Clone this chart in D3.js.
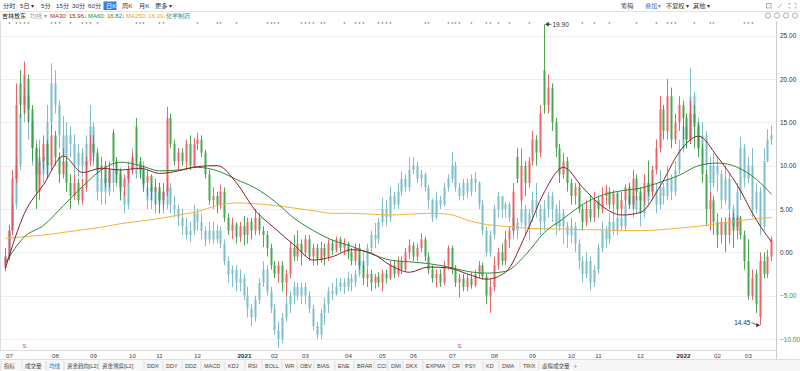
<!DOCTYPE html>
<html>
<head>
<meta charset="utf-8">
<script src="https://cdn.jsdelivr.net/npm/d3@7/dist/d3.min.js"></script>
<style>
  body { margin: 0; background: #fff; }
  svg { display: block; font-family: "Liberation Sans", "Noto Sans CJK SC", sans-serif; }
</style>
</head>
<body>
<svg id="chart" width="800" height="371"></svg>
<script>
// 吉林敖东 (red/green) vs 化学制药 overlay (teal), % scale, ~2 sessions per candle
const stockOpen = [-1.8,-0.5,2.5,8.5,19.5,17,20,16.5,12,7, 10.5,12.5,10,13.5,11,9,10.5,8,6.5,8,
  6,7.5,10.5,12.5,11.5,9.5,10,8,13.8,10.5, 9,7.5,8.5,9.5,14.5,10.5,9.5,8,8.8,7,
  7.5,6,7,15.5,12.5,10.5,11.5,10.5,12.5,10, 12.5,13,11.5,9,6,6.5,5.5,7,4,2.5,
  3.2,1.8,3,2,3.5,2.5,4,2.5,2,0.5, -1.5,-2.5,-1.5,-3.5,-2.5,0.5,-0.5,1,0,1.5,
  -0.5,0.5,-0.8,0.5,-0.5,1,0.2,1.5,0.5,1, 0,-1,0.5,-1.5,-3,-2.5,-3.5,-2.8,-3.5,-2.5,
  -3,-1.5,-2.5,-1,-2,0,0.8,-0.5,0.5,1.5, -0.5,-2,-3,-2.5,-3.5,-1.5,0.5,-2,-3.5,-3,
  -4,-3,-3.8,-2.5,-1.5,-2.8,-5,-4,-1.5,0, -1,1.5,2.5,11,6,10,8,10.5,13,11.5,
  21,17,19,15,12,9,10.5,8,6.5,7.5, 5,3.5,5,4,6,5,6.5,7,5.5,6.8,
  5,6,7.5,5.5,8.5,7,6,8,7,9.5, 12,16.5,14,18,13,15,17,15.5,13,16,
  14.5,12,9,5,6,3.5,2,3.5,2,4, 2.5,4,2,-1,-5,-2.5,-7.5,-1,-2.5,-0.5];
const stockClose = [-0.5,2.5,8.5,17,17,20.5,16.5,12,7,10.5, 12.5,10,13.5,11,9,10.5,8,6.5,8,6,
  7.5,10.5,12.5,11.5,9.5,10,8,9.5,10.5,9, 7.5,8.5,9.5,11,10.5,9.5,8,8.8,7,7.5,
  6,7,15.5,12.5,10.5,11.5,10.5,12.5,10,12.5, 13,11.5,9,6,6.5,5.5,7,4,2.5,3.2,
  1.8,3,2,3.5,2.5,4,2.5,2,0.5,-1.5, -2.5,-1.5,-3.5,-2.5,0.5,-0.5,1,0,1.5,-0.5,
  0.5,-0.8,0.5,-0.5,1,0.2,1.5,0.5,1,0, -1,0.5,-1.5,-3,-2.5,-3.5,-2.8,-3.5,-2.5,-3,
  -1.5,-2.5,-1,-2,0,0.8,-0.5,0.5,1.5,-0.5, -2,-3,-2.5,-3.5,-1.5,0.5,-2,-3.5,-3,-4,
  -3,-3.8,-2.5,-1.5,-2.8,-5,-4,-1.5,0,-1, 1.5,2.5,7,8.5,10,8,10.5,13,11.5,16,
  17,19,15,12,9,10.5,8,6.5,7.5,5, 3.5,5,4,6,5,6.5,7,5.5,6.8,5,
  6,7.5,5.5,8.5,7,6,8,7,9.5,12, 16.5,14,18,13,15,17,15.5,13,16,14.5,
  12,9,5,6,3.5,2,3.5,2,4,2.5, 4,2,-1,-5,-3,-6,-1,-2.5,-0.5,1.5];
const stockHigh = [0.5,3.2,9.5,19.5,21,22,20.5,17,12.5,12, 13.5,13,14.8,14,11.5,12,11,9,9,8.5,
  8.5,11,13.5,13.5,12,11,10.5,10.5,14.2,11, 9.5,9,10,11.5,15.5,11,10,9.5,9,8.5,
  8,8,16.8,16,13,12,12,13,13.5,13.2, 13.8,13.5,11.8,9.5,7.5,7,7.8,7.5,4.5,4,
  3.5,3.5,4.2,4,4,5,4.5,3,2.5,1, -1,-1,-1,-2,1.2,2,2.5,1.5,2,2,
  1,1,1.2,1,1.5,1.5,1.8,1.8,1.6,1.2, 0.5,1,1,-1,-2,-2,-2.5,-2.3,-2,-2,
  -1,-1,-0.5,-0.5,0.5,1.5,1.2,1,2.2,1.8, 0,-1.5,-2,-2,-1,0.8,0.8,-1.5,-2.5,-2.5,
  -2.5,-2.3,-2,-1,-1.2,-2.5,-3,-0.5,0.5,1, 2.5,3,8,12,12,10.5,11,14,13.5,17,
  26.3,20.5,19.5,15.5,12.5,11.5,11,8.5,8,8, 5.5,6,6.5,7,6.5,7.5,7.8,7.5,7.2,7,
  7,7.8,8,9.5,9,7.5,9,10.6,10,13, 18,17,20,19,16,18,17.5,16,17.5,17,
  15,12.5,9.5,7,6.5,4.5,4,4,4.5,4.5, 4.3,4.2,2.5,1.5,-2,-2,0,0,0.3,1.8];
const stockLow = [-2.2,-0.8,2,8,15.5,16,15,10.5,5,6, 9.5,8.5,9.5,10,8,8.5,7,5,6,5.5,
  5.5,7,10,10.5,9,8.5,7.5,7.5,10,8, 6,6.5,8,9,10,8.5,7,6.5,6,5.5,
  4.5,5,6.5,12,10,9.5,10,9.5,9.5,9.8, 11.8,11,8.5,5.5,5,4.5,5,3.5,2,1.5,
  1,1.2,0.8,1,1.5,2,2,0.6,-0.5,-2, -3,-3.5,-4.5,-5,-3,-1,-1,-1.5,-0.5,-1,
  -1.5,-1.5,-1.2,-1.5,-1,-0.3,0,0,-0.3,-0.8, -1.5,-1.5,-2,-3.8,-4,-4.5,-4.2,-4,-4.5,-3.6,
  -3.2,-3,-2.8,-2.5,-2.2,-0.8,-1,-1,0,-1, -2.5,-3.5,-4,-4,-3.8,-2,-2.5,-4,-5.2,-4.5,
  -4.5,-4.2,-4,-3,-3.2,-6,-7,-4.5,-2,-1.5, -1.5,0.5,2,8,5.5,6.5,7.5,10,10,11,
  16,16,14,11,8,8.5,7,5.5,5.5,4.5, 2.5,3,3.5,3.5,4,4.5,5.5,5,5,4.5,
  4.3,5.5,5,5,6,4.5,5.5,6.5,6.5,9, 11.5,13,13,12,12.5,14,13,12,12.5,12,
  11,8,3,2.5,2,0.5,1,0,1,0.5, 1.5,1.5,-2,-5.5,-5.5,-7,-8.4,-3,-3,-1];

const indOpen = [-1.5,-0.5,2.5,5.5,10,16,18,15,12,9, 11,9,15,19.5,17,13.5,11,13.5,12.5,10,
  11.5,10,12.5,14.5,11,7,8.5,7,9.5,8, 9.5,7,5.5,9.5,10.5,9,10,7.5,6,7.5,
  5.5,7,5.5,7.5,5.5,5,4,3,2,2.5, 4.5,3.5,2.5,1.5,2.5,1.5,2.5,1,-1,-2.5,
  -2,-3.5,-3,-5,-6.5,-7.5,-5.5,-3.5,-2,-4.5, -6.5,-9,-10,-7.5,-6,-5,-4,-5,-4,-5,
  -6.5,-8.5,-9.5,-7,-6,-4.5,-4.8,-4,-3.5,-4, -3,-3.5,-2.5,-1,-1.5,0.5,2,1.5,3.5,5,
  4,6.5,5.5,7,8.5,7.5,9.5,10,8.5,9, 7.5,6,4,6,5.5,7.5,8.5,10,7.5,6.5,
  8,7,8.5,8,5.5,2.5,0,2,5,6.5, 5,5.5,4,2.5,3.5,5,3,4.5,6,5,
  3.5,5,6.5,5,3,4.5,3,2,3,1, -1,-2.5,-1,-3.5,-2,0.5,2.5,1.5,3.5,2.5,
  4,3,5.5,6.5,5,6.5,4.5,6,8,7, 5.5,7.5,6.5,8.5,7,9.5,12,14.5,13,18,
  15,12,13.5,10,8,10,9,6,8.5,5, 3,7,12,8.5,10,5,7,3,10.5,13];
const indClose = [-0.5,2.5,5.5,10,16,18,15,12,9,11, 9,15,19.5,17,13.5,11,13.5,12.5,10,11.5,
  10,12.5,14.5,11,7,8.5,7,9.5,8,9.5, 7,5.5,9.5,10.5,9,10,7.5,6,7.5,5.5,
  7,5.5,7.5,5.5,5,4,3,2,2.5,4.5, 3.5,2.5,1.5,2.5,1.5,2.5,1,-1,-2.5,-2,
  -3.5,-3,-5,-6.5,-7.5,-5.5,-3.5,-2,-4.5,-6.5, -9,-10,-7.5,-6,-5,-4,-5,-4,-5,-6.5,
  -8.5,-9.5,-7,-6,-4.5,-4.8,-4,-3.5,-4,-3, -3.5,-2.5,-1,-1.5,0.5,2,1.5,3.5,5,4,
  6.5,5.5,7,8.5,7.5,9.5,10,8.5,9,7.5, 6,4,6,5.5,7.5,8.5,10,7.5,6.5,8,
  7,8.5,8,5.5,2.5,0,2,5,6.5,5, 5.5,4,2.5,3.5,5,3,4.5,6,5,3.5,
  5,6.5,5,3,4.5,3,2,3,1,-1, -2.5,-1,-3.5,-2,0.5,2.5,1.5,3.5,2.5,4,
  3,5.5,6.5,5,6.5,4.5,6,8,7,5.5, 7.5,6.5,8.5,7,9.5,12,14.5,13,18,15,
  12,13.5,10,8,10,9,6,8.5,5,3, 7,12,8.5,10,5,7,3,10.5,13,13.5];
const indHigh = [0,3,6.5,11,18,19,18.5,15.5,13,13, 12,17,21.8,21,17.5,15.7,15,14.5,13.6,12.5,
  12,13.5,17,15,11.5,10,9.5,10,10.5,10.5, 9.8,7.5,10.5,12,11.5,11,10.5,8,8,8,
  8,8,8.5,8,6.5,5.5,5,4,3.5,5.5, 5,4.5,3,3.5,3.5,3.2,3,1.5,-0.5,-1.5,
  -1.5,-2,-2.5,-4,-6,-5,-3,-1,-1.5,-4, -6,-8,-7,-5,-4.5,-3.4,-3.5,-3.5,-3.5,-4.5,
  -6,-8,-6.5,-5.2,-4,-3.5,-3,-3,-3,-2.3, -2.5,-2,-0.5,0,1,2.5,3.4,4,6.3,6,
  7.6,7,8,9.3,9,11,11,10.5,9.5,9.2, 7.8,6.2,7,6.5,8,9,11.6,10.5,8,8.5,
  8.5,9,9.3,8.2,6,3,2.5,5.5,7,6.5, 5.8,5.8,4.5,4,6,5.5,5,7,8,5.5,
  6,7,7,5.5,6,5,3.5,4,3.5,1.5, -0.5,0,-0.5,-1.5,1,3.5,3,4.5,5,5,
  4.5,6,8,7,7.5,7,7,9,9,8, 9.5,8,10,9,10.5,13,16,16,21.3,18.5,
  15.5,15,14,11,11.5,11,9.5,10,9,5.5, 8,13.3,12.5,11,12,8,7.5,12,14.2,14.6];
const indLow = [-2,-1,2,5,9.5,15,13,10,7,8, 8,8.5,14,16,12,9,10,11,9,8.7,
  8.7,9.5,12,10,6,5.5,5.5,6.5,7,7.5, 6,4.5,5,9,8.5,8.5,7,5,5,4.5,
  4.5,4.5,5,4.5,4,3,2,1.5,1.2,2, 2.5,1.5,0.7,1,1,1,0.5,-1.5,-3.5,-4,
  -4.5,-4.5,-5.5,-7.5,-8.5,-8,-6,-4,-5,-7, -9.5,-11,-10.5,-8,-7,-6,-5.5,-6,-6,-7,
  -9,-10,-10,-8.4,-7,-5.5,-5,-4.5,-4.8,-4.5, -4.5,-4,-2.8,-2.3,-2,0,0.5,1,3,3,
  3.5,5,5,6.5,7,7,9,8,7.6,7, 5,3.5,3.8,5,5.3,7,8,7,6,6,
  6.3,6.5,7,5,2,-0.5,-0.5,1.5,4,4, 4,3.5,1.5,1.5,3,2,1.4,3.5,4,2,
  2.5,4,3.5,2,2.5,1,0.5,1,0,-2, -3.5,-3,-4.4,-4,-2.5,0,0.5,1,2,2,
  2.5,2.5,5,4,4.5,3,4,5.5,6,4.5, 5,5.5,6,6,6.5,9,11.5,12,12.5,13,
  11,11,9,6,7.5,7,5,5.5,4,2.5, 2.5,6,7.5,8,4,4.5,2,2.5,10.4,12.4];

// moving averages of the stock, read every 5 candles (last point = last candle)
const maStep = 5;
const ma30 = [-1.8,4.5,7.8,11.1,9.2,9.7,9.5,9.7,9.1,9.4, 9.9,10,8,4.8,2.8,0.8,-0.9,-0.5,0.3,-0.1,
  -1.5,-2.3,-1.7,-1.8,-2.5,-3.1,-2.3,2,7,9.8, 7.5,5.3,4.3,4.6,7.7,11.6,13.4,11,7.7,3.7, 1.2];
const ma60 = [-1.2,1.8,3.1,5.4,7.6,9.5,10.4,10,9.4,9.5, 9.8,9.4,8.4,7.4,5.9,3.9,2.5,1.4,0.7,-0.2,
  -0.9,-1.1,-1.3,-1.7,-2.2,-2.4,-2.2,-0.3,2.3,3.9, 5.5,6.6,7.1,7.4,8.1,8.9,10,10.3,9.8,8.4, 6.7];
const ma250 = [1.6,1.8,2.0,2.3,2.6,2.9,3.3,3.6,3.9,4.3, 4.7,5.4,5.7,5.6,5.4,5.1,4.8,4.5,4.5,4.4,
  4.3,4.4,4.5,4.4,3.7,3.2,3.0,2.8,2.7,2.7, 2.6,2.6,2.5,2.5,2.6,2.8,3.0,3.3,3.6,3.9, 4.0];

const yTicks = [-10, -5, 0, 5, 10, 15, 20, 25];
const monthLabels = ["07","08","09","10","11","12","2021","02","03","04","05","06","07","08","09","10","11","12","2022","02","03"];
const monthIdx = [1,13,23,33,40,50,62,70,78,89,98,106,116,127,137,147,154,165,176,185,193];
const eventIdx = [1,3,4,5,6,12,13,14,17,20,21,22,24,34,35,36,40,41,50,55,56,60,68,69,70,71,77,78,79,80,82,83,88,91,92,93,97,98,99,100,
  109,110,115,116,117,118,121,125,126,128,131,136,141,150,153,157,164,169,172,173,174,179,183,184,192,193,194];
const signalIdx = [5, 118];
const maxPrice = "19.90", minPrice = "14.45";

const toolbarItems = ["分时","5日 ▾","5分","15分","30分","60分","日K","周K","月K","更多 ▾"];
const toolbarX = [3, 20, 41, 56, 72, 88, 106, 122, 139, 155];
const tabItems = ["指标","成交量","均线","资金趋向[L2]","资金博弈[L2]","DDX","DDY","DDZ","MACD","KDJ","RSI","BOLL","WR","OBV","BIAS","ENE","BRAR","CCI","DMI","DKX","EXPMA","CR","PSY","KD","DMA","TRIX","虚拟成交量"];
const tabX = [4,25,49,67,102,147,166,185,204,228,248,265,285,300,317,338,357,377,391,406,426,452,465,486,502,523,542];

const RED = "#ea4a50", GREEN = "#2f9a36", TEAL = "#78bcc7";
const svg = d3.select("#chart");
const N = stockClose.length;
const plotRight = 776;

const x = d3.scaleBand().domain(d3.range(N)).range([2, 774]).padding(0.45);
const cx = i => Math.round(x(i) + x.bandwidth() / 2) + 0.5;
const y = d3.scaleLinear().domain([-10, 25]).range([339, 35.6]);

// top toolbar
svg.append("line").attr("x1", 0).attr("x2", 800).attr("y1", 11.5).attr("y2", 11.5).attr("stroke", "#e2e2e2");
toolbarItems.forEach((t, k) => {
  if (t === "日K") {
    svg.append("rect").attr("x", toolbarX[k] - 2.5).attr("y", 1.5).attr("width", 13).attr("height", 8.5).attr("fill", "#3b7dd8");
  }
  svg.append("text").attr("x", toolbarX[k]).attr("y", 8).attr("font-size", 6.2)
    .attr("fill", t === "日K" ? "#fff" : "#333").text(t);
});
const rightTools = [["筹码", 621, "#333"], ["叠加", 645, "#2f6fd0"], ["▾", 658, "#888"], ["不复权 ▾", 666, "#333"], ["其他 ▾", 693, "#333"]];
rightTools.forEach(r => svg.append("text").attr("x", r[1]).attr("y", 8).attr("font-size", 6.2).attr("fill", r[2]).text(r[0]));
svg.append("rect").attr("x", 766.5).attr("y", 3.5).attr("width", 4.5).attr("height", 4.5).attr("fill", "none").attr("stroke", "#999").attr("stroke-width", 0.7);
svg.append("line").attr("x1", 778).attr("y1", 8).attr("x2", 782).attr("y2", 3.5).attr("stroke", "#999").attr("stroke-width", 0.7);
[[789, 3.5, 1, 1], [796, 3.5, -1, 1], [789, 8, 1, -1], [796, 8, -1, -1]].forEach(p => {
  svg.append("path").attr("d", `M${p[0]},${p[1] + 1.5 * p[3]}V${p[1]}H${p[0] + 1.5 * p[2]}`)
    .attr("fill", "none").attr("stroke", "#999").attr("stroke-width", 0.7);
});

// legend row
const legend = [["吉林敖东", "#222", 2], ["均线 ▾", "#999", 30], ["MA30: 15.96↓", "#a3232b", 50], ["MA60: 16.82↓", "#1f8a2a", 88],
  ["MA250: 16.29↓", "#f0a020", 126], ["化学制药", "#2a9aa6", 166]];
legend.forEach(l => svg.append("text").attr("x", l[2]).attr("y", 18).attr("font-size", 6).attr("fill", l[1]).text(l[0]));
[768, 777, 786, 795].forEach(c => svg.append("circle").attr("cx", c).attr("cy", 15.5).attr("r", 2.6)
  .attr("fill", "none").attr("stroke", "#999").attr("stroke-width", 0.8));

// plot frame + grid
svg.append("line").attr("x1", 0.5).attr("x2", 0.5).attr("y1", 21).attr("y2", 350).attr("stroke", "#ddd");
svg.append("line").attr("x1", plotRight + 0.5).attr("x2", plotRight + 0.5).attr("y1", 21).attr("y2", 359).attr("stroke", "#ccc");
svg.append("line").attr("x1", 0).attr("x2", plotRight).attr("y1", 350.5).attr("y2", 350.5).attr("stroke", "#ddd");
svg.append("g").selectAll("line").data(yTicks).enter().append("line")
  .attr("x1", 1).attr("x2", plotRight).attr("y1", d => Math.round(y(d)) + 0.5).attr("y2", d => Math.round(y(d)) + 0.5)
  .attr("stroke", "#eeeeee");

// right axis
const yAxis = svg.append("g").attr("transform", `translate(${plotRight + 4},0)`)
  .call(d3.axisRight(y).tickValues(yTicks).tickFormat(d3.format(".2f")).tickSize(0));
yAxis.select(".domain").remove();
yAxis.selectAll("text").attr("font-size", 6.5).attr("font-family", "Liberation Sans, sans-serif").attr("x", 0)
  .attr("fill", d => d < 0 ? "#2f9a36" : "#333");

// event dots on top row
svg.append("g").selectAll("rect").data(eventIdx).enter().append("rect")
  .attr("x", d => cx(d) - 0.8).attr("y", 22.2).attr("width", 1.5).attr("height", 1.5).attr("fill", "#8a8a8a");

// candles
function drawCandles(o, c, h, l, colorOf) {
  const g = svg.append("g");
  const data = d3.range(N).map(i => ({ i: i, o: o[i], c: c[i], h: h[i], l: l[i] }));
  g.selectAll("line").data(data).enter().append("line")
    .attr("x1", d => cx(d.i)).attr("x2", d => cx(d.i))
    .attr("y1", d => y(d.h)).attr("y2", d => y(d.l))
    .attr("stroke", d => colorOf(d)).attr("stroke-width", 1);
  g.selectAll("rect").data(data).enter().append("rect")
    .attr("x", d => cx(d.i) - 1).attr("width", 2)
    .attr("y", d => y(Math.max(d.o, d.c)))
    .attr("height", d => Math.max(1, Math.abs(y(d.o) - y(d.c))))
    .attr("fill", d => colorOf(d));
  return g;
}
drawCandles(indOpen, indClose, indHigh, indLow, () => TEAL).attr("opacity", 0.95);
drawCandles(stockOpen, stockClose, stockHigh, stockLow, d => d.c >= d.o ? RED : GREEN).attr("opacity", 0.85);

// moving average lines
const maLine = d3.line().x((v, k) => cx(Math.min(k * maStep, N - 1))).y(v => y(v)).curve(d3.curveMonotoneX);
[[ma250, "#f4b13a"], [ma60, "#2c8a36"], [ma30, "#8e1f2a"]].forEach(m => {
  svg.append("path").datum(m[0]).attr("d", maLine).attr("fill", "none")
    .attr("stroke", m[1]).attr("stroke-width", 1);
});

// max / min annotations
const iMax = d3.maxIndex(stockHigh), iMin = d3.minIndex(stockLow);
const yMax = y(stockHigh[iMax]), yMin = y(stockLow[iMin]);
svg.append("path").attr("d", `M${cx(iMax) + 1},${yMax} l3,-1.5 v3 z M${cx(iMax) + 3},${yMax} h4`)
  .attr("stroke", "#333").attr("stroke-width", 0.7).attr("fill", "#333");
svg.append("text").attr("x", cx(iMax) + 8).attr("y", yMax + 2.5).attr("font-size", 6.5).attr("fill", "#333").text(maxPrice);
svg.append("path").attr("d", `M${cx(iMin) - 1},${yMin} l-3,-1.5 v3 z M${cx(iMin) - 3},${yMin} l-6,-2.5`)
  .attr("stroke", "#333").attr("stroke-width", 0.7).attr("fill", "#333");
svg.append("text").attr("x", cx(iMin) - 10).attr("y", yMin).attr("text-anchor", "end").attr("font-size", 6.5).attr("fill", "#333").text(minPrice);

// signal marks
svg.append("g").selectAll("text").data(signalIdx).enter().append("text")
  .attr("x", d => cx(d)).attr("y", 348).attr("text-anchor", "middle")
  .attr("font-size", 6).attr("fill", "#e03a3a").text("S");

// month labels
svg.append("g").selectAll("text").data(monthLabels).enter().append("text")
  .attr("x", (d, k) => cx(monthIdx[k])).attr("y", 357.5).attr("text-anchor", "middle")
  .attr("font-size", 6.2).attr("font-weight", d => d.length === 4 ? "bold" : "normal")
  .attr("fill", d => d.length === 4 ? "#222" : "#444").text(d => d);

// indicator tabs
svg.append("rect").attr("x", 0).attr("y", 359.5).attr("width", 800).attr("height", 12).attr("fill", "#f7f7f7");
svg.append("line").attr("x1", 0).attr("x2", 800).attr("y1", 359.5).attr("y2", 359.5).attr("stroke", "#ddd");
tabItems.forEach((t, k) => {
  svg.append("text").attr("x", tabX[k]).attr("y", 367.5).attr("font-size", 5.5)
    .attr("fill", t === "均线" ? "#2f6fd0" : "#444").text(t);
  svg.append("line").attr("x1", tabX[k] - 3).attr("x2", tabX[k] - 3).attr("y1", 361).attr("y2", 370).attr("stroke", "#ddd");
});
svg.append("text").attr("x", 573).attr("y", 368.5).attr("font-size", 8).attr("fill", "#999").text("+");
</script>
</body>
</html>
